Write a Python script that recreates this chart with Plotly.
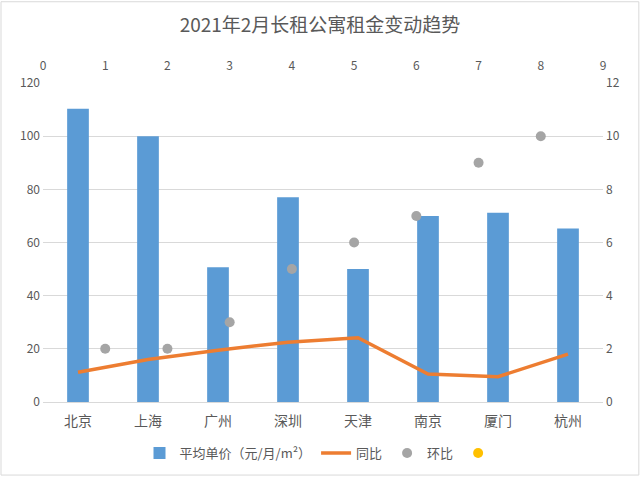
import plotly.graph_objects as go

cities = ["北京", "上海", "广州", "深圳", "天津", "南京", "厦门", "杭州"]
avg_price = [110.3, 100, 50.7, 77, 50, 70, 71.2, 65.3]
yoy = [1.12, 1.6, 1.95, 2.25, 2.42, 1.05, 0.95, 1.8]
mom_x = [1, 2, 3, 4, 5, 6, 7, 8]
mom_y = [2, 2, 3, 5, 6, 7, 9, 10]

font_family = "Noto Sans CJK SC, Noto Sans, sans-serif"
grey = "#595959"

fig = go.Figure()
fig.add_trace(go.Bar(x=cities, y=avg_price, name="平均单价（元/月/m²）",
                     marker=dict(color="#5B9BD5", line=dict(width=0)), width=0.31,
                     xaxis="x", yaxis="y"))
fig.add_trace(go.Scatter(x=cities, y=yoy, name="同比", mode="lines",
                         line=dict(color="#ED7D31", width=3.5),
                         xaxis="x", yaxis="y2"))
fig.add_trace(go.Scatter(x=mom_x, y=mom_y, name="环比", mode="markers",
                         marker=dict(color="#A5A5A5", size=10),
                         xaxis="x2", yaxis="y2"))
fig.add_trace(go.Scatter(x=[None], y=[None], name=" ", mode="markers",
                         marker=dict(color="#FFC000", size=10),
                         xaxis="x2", yaxis="y2"))

fig.update_layout(
    width=640, height=480,
    margin=dict(l=43, r=37, t=83, b=75),
    paper_bgcolor="white", plot_bgcolor="white",
    font=dict(family=font_family, color=grey, size=12),
    title=dict(text="2021年2月长租公寓租金变动趋势", x=0.5, xanchor="center",
               y=0.948, yanchor="middle", font=dict(size=19, color=grey)),
    showlegend=True,
    legend=dict(orientation="h", x=0.5, xanchor="center", y=-0.16, yanchor="middle",
                font=dict(size=13, color=grey), traceorder="normal"),
    xaxis=dict(type="category", showgrid=False, showline=True, linecolor="#D9D9D9",
               linewidth=1, ticks="", automargin=False, ticklabelstandoff=6,
               tickfont=dict(size=14, color=grey)),
    xaxis2=dict(overlaying="x", side="top", range=[0, 9], dtick=1, showgrid=False,
                showline=False, zeroline=False, ticks="", automargin=False,
                ticklabelstandoff=10, tickfont=dict(size=12, color=grey)),
    yaxis=dict(range=[0, 120], dtick=20, showgrid=True, gridcolor="#D9D9D9",
               zeroline=False, ticks="", automargin=False, ticklabelstandoff=2,
               tickfont=dict(size=12, color=grey)),
    yaxis2=dict(overlaying="y", side="right", range=[0, 12], dtick=2, showgrid=False,
                zeroline=False, ticks="", automargin=False, ticklabelstandoff=2,
                tickfont=dict(size=12, color=grey)),
    shapes=[dict(type="rect", xref="paper", yref="paper",
                 x0=-0.075, x1=1.064, y0=-0.229, y1=1.2547,
                 line=dict(color="#D9D9D9", width=1), fillcolor="rgba(0,0,0,0)")],
)

fig.write_html("out.html", config={"displayModeBar": False},
               post_script="document.body.style.margin='0';")
